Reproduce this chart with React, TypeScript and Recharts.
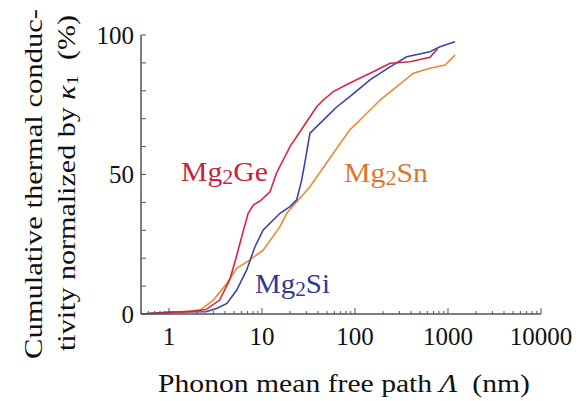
import React from "react";
import { LineChart, Line, XAxis, YAxis } from "recharts";

// mean free path (nm) and cumulative kappa (%)
const geMfp = [0.5, 1, 1.7, 2.5, 3.5, 4.5, 5.35, 6.05, 7.1, 8.1, 9.5, 12.2, 14.4, 16.9, 20, 27.8, 38.7, 45.6, 58.5, 88, 157, 238, 390, 640, 770];
const geKappa = [0, 0.5, 0.9, 1.6, 5, 12.2, 21, 27.7, 36.1, 39.1, 40.5, 43.8, 50.7, 55.2, 60, 67.1, 74.3, 76.7, 79.7, 82.8, 86.8, 89.9, 90.4, 92, 95];

const siMfp = [0.5, 1, 2.5, 3.25, 4.2, 5.35, 6.85, 8.4, 10.3, 15.6, 20, 23.6, 26.7, 29, 32.8, 45.6, 63.5, 88, 145, 238, 360, 640, 820, 1190];
const siKappa = [0, 0.7, 0.8, 2, 3.8, 8.6, 15.8, 24.1, 30.1, 36.1, 38.5, 40.9, 48, 54.5, 64.8, 69.5, 74.2, 77.9, 83.9, 88.6, 92.2, 94, 95.8, 97.6];

const snMfp = [0.5, 1, 2.15, 3, 4.2, 5.35, 7.4, 10.3, 15.6, 18.5, 23.6, 32.8, 53.8, 88, 123, 186, 281, 424, 640, 930, 1190];
const snKappa = [0, 0.4, 1.4, 5, 11, 16.4, 19.4, 22.9, 31.3, 36.1, 40.2, 45.6, 55.9, 66, 70.7, 76.7, 81.5, 86.3, 88.1, 89.2, 92.8];

const xTicks = [
  0.5, 0.6, 0.7, 0.8, 0.9,
  1, 2, 3, 4, 5, 6, 7, 8, 9,
  10, 20, 30, 40, 50, 60, 70, 80, 90,
  100, 200, 300, 400, 500, 600, 700, 800, 900,
  1000, 2000, 3000, 4000, 5000, 6000, 7000, 8000, 9000,
  10000,
];
const xLabels = [1, 10, 100, 1000, 10000];
const yTicks = [0, 10, 20, 30, 40, 50, 60, 70, 80, 90, 100];
const yLabels = [0, 50, 100];

const toPoints = (xs: number[], ys: number[]) => xs.map((x, i) => ({ x, y: ys[i] }));
const geData = toPoints(geMfp, geKappa);
const siData = toPoints(siMfp, siKappa);
const snData = toPoints(snMfp, snKappa);

const FONT = "Liberation Serif, serif";
const FRAME = "#555";

const BottomTick = (props: any) => {
  const { x, y, payload } = props;
  const major = xLabels.includes(payload.value);
  return (
    <g>
      <line x1={x} x2={x} y1={y} y2={y - (major ? 6 : 3)} stroke={FRAME} strokeWidth={1} />
      {major && (
        <text x={x} y={y + 31} textAnchor="middle" fontFamily={FONT} fontSize={25} fill="#111">
          {payload.value}
        </text>
      )}
    </g>
  );
};

const TopTick = (props: any) => {
  const { x, y, payload } = props;
  const major = xLabels.includes(payload.value);
  return <line x1={x} x2={x} y1={y} y2={y + (major ? 6 : 3)} stroke={FRAME} strokeWidth={1} />;
};

const LeftTick = (props: any) => {
  const { x, y, payload } = props;
  return (
    <g>
      <line x1={x} x2={x + 5} y1={y} y2={y} stroke={FRAME} strokeWidth={1} />
      {yLabels.includes(payload.value) && (
        <text x={x - 7} y={y} dy="0.35em" textAnchor="end" fontFamily={FONT} fontSize={25} fill="#111">
          {payload.value}
        </text>
      )}
    </g>
  );
};

const RightTick = (props: any) => {
  const { x, y } = props;
  return <line x1={x} x2={x - 5} y1={y} y2={y} stroke={FRAME} strokeWidth={1} />;
};

const Compound = ({ x, y, head, tail, color, len }: { x: number; y: number; head: string; tail: string; color: string; len: number }) => (
  <text x={x} y={y} fontFamily={FONT} fontSize={27} fill={color} textLength={len} lengthAdjust="spacingAndGlyphs">
    {head}
    <tspan fontSize={20} dy={3}>2</tspan>
    <tspan dy={-3}>{tail}</tspan>
  </text>
);

export default function App() {
  return (
    <div style={{ position: "absolute", left: 0, top: 0, width: 580, height: 401, background: "#fff" }}>
      <LineChart width={580} height={401} margin={{ top: 35, right: 39, bottom: 0, left: 0 }}>
        <XAxis
          xAxisId="b"
          dataKey="x"
          type="number"
          scale="log"
          domain={[0.5, 10000]}
          allowDataOverflow
          ticks={xTicks}
          interval={0}
          height={87}
          tickSize={0}
          tickMargin={0}
          tick={<BottomTick />}
          axisLine={{ stroke: FRAME, strokeWidth: 1.5 }}
        />
        <XAxis
          xAxisId="t"
          orientation="top"
          dataKey="x"
          type="number"
          scale="log"
          domain={[0.5, 10000]}
          allowDataOverflow
          ticks={xTicks}
          interval={0}
          height={0}
          tickSize={0}
          tickMargin={0}
          tick={<TopTick />}
          axisLine={{ stroke: FRAME, strokeWidth: 1.5 }}
        />
        <YAxis
          yAxisId="l"
          type="number"
          domain={[0, 100]}
          ticks={yTicks}
          interval={0}
          width={141}
          tickSize={0}
          tickMargin={0}
          tick={<LeftTick />}
          axisLine={{ stroke: FRAME, strokeWidth: 1.5 }}
        />
        <YAxis
          yAxisId="r"
          orientation="right"
          type="number"
          domain={[0, 100]}
          ticks={yTicks}
          interval={0}
          width={0}
          tickSize={0}
          tickMargin={0}
          tick={<RightTick />}
          axisLine={{ stroke: FRAME, strokeWidth: 1.5 }}
        />
        <Line xAxisId="b" yAxisId="l" data={snData} dataKey="y" type="linear" stroke="#e88a33" strokeWidth={1.6} dot={false} isAnimationActive={false} />
        <Line xAxisId="b" yAxisId="l" data={siData} dataKey="y" type="linear" stroke="#3b44a6" strokeWidth={1.6} dot={false} isAnimationActive={false} />
        <Line xAxisId="b" yAxisId="l" data={geData} dataKey="y" type="linear" stroke="#d9263f" strokeWidth={1.6} dot={false} isAnimationActive={false} />
      </LineChart>
      <svg width={580} height={401} style={{ position: "absolute", left: 0, top: 0, pointerEvents: "none" }}>
        <Compound x={181} y={181} head="Mg" tail="Ge" color="#c8233d" len={87} />
        <Compound x={344} y={182} head="Mg" tail="Sn" color="#d9772b" len={84} />
        <Compound x={255} y={293} head="Mg" tail="Si" color="#313894" len={75} />
        <text x={158} y={392} fontFamily={FONT} fontSize={25} fill="#111" textLength={372} lengthAdjust="spacingAndGlyphs">
          Phonon mean free path <tspan fontStyle="italic">Λ</tspan>{"\u00a0\u00a0"}(nm)
        </text>
        <g transform="translate(42 184) rotate(-90)">
          <text x={-175} y={0} fontFamily={FONT} fontSize={25} fill="#111" textLength={350} lengthAdjust="spacingAndGlyphs">
            Cumulative thermal conduc-
          </text>
        </g>
        <g transform="translate(75 183) rotate(-90)">
          <text x={-168} y={0} fontFamily={FONT} fontSize={25} fill="#111" textLength={336} lengthAdjust="spacingAndGlyphs">
            tivity normalized by <tspan fontStyle="italic">κ</tspan>
            <tspan fontSize={17} dy={3}>1</tspan>
            <tspan dy={-3}>{"\u00a0\u00a0"}(%)</tspan>
          </text>
        </g>
      </svg>
    </div>
  );
}
